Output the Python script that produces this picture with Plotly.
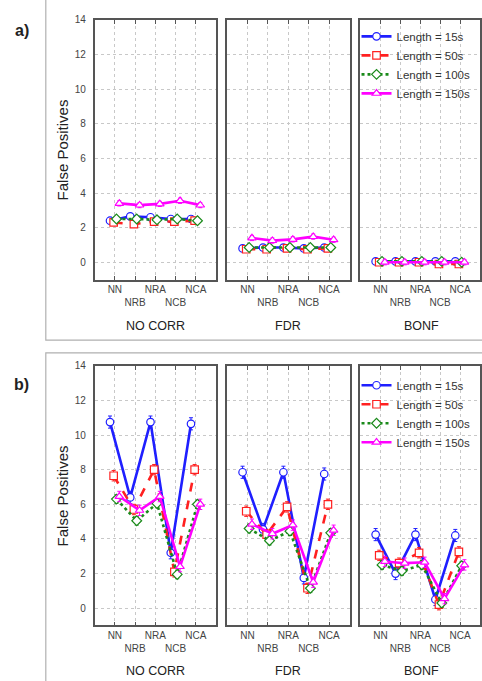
import plotly.graph_objects as go

categories = ["NN", "NRB", "NRA", "NCB", "NCA"]
tick_labels = ["NN", "<br>NRB", "NRA", "<br>NCB", "NCA"]
corrections = ["NO CORR", "FDR", "BONF"]
series_names = ["Length = 15s", "Length = 50s", "Length = 100s", "Length = 150s"]
y_ticks = [0, 2, 4, 6, 8, 10, 12, 14]

# panel a) values per correction: [15s, 50s, 100s, 150s]
a_nocorr = [[2.4, 2.65, 2.6, 2.5, 2.5],
            [2.3, 2.2, 2.35, 2.35, 2.4],
            [2.5, 2.5, 2.45, 2.5, 2.4],
            [3.4, 3.3, 3.37, 3.55, 3.3]]
a_fdr = [[0.8, 0.85, 0.85, 0.8, 0.85],
         [0.75, 0.75, 0.8, 0.75, 0.8],
         [0.85, 0.85, 0.85, 0.85, 0.85],
         [1.4, 1.25, 1.32, 1.48, 1.3]]
a_bonf = [[0.05, 0.05, 0.05, 0.05, 0.05],
          [0.0, 0.0, 0.0, -0.1, -0.1],
          [0.05, 0.05, 0.05, 0.05, 0.0],
          [0.0, 0.0, 0.0, 0.0, 0.0]]
a_err = [0.12, 0.12, 0.12, 0.15]

# panel b)
b_nocorr = [[10.75, 6.4, 10.75, 3.2, 10.65],
            [7.65, 5.7, 8.0, 2.1, 8.0],
            [6.3, 5.05, 6.05, 1.95, 6.0],
            [6.45, 5.65, 6.45, 2.4, 6.0]]
b_fdr = [[7.85, 4.55, 7.85, 1.75, 7.75],
         [5.6, 4.25, 5.85, 1.15, 6.0],
         [4.6, 3.9, 4.45, 1.15, 4.35],
         [4.85, 4.3, 4.8, 1.5, 4.5]]
b_bonf = [[4.25, 2.0, 4.25, 0.5, 4.2],
          [3.05, 2.6, 3.2, 0.2, 3.25],
          [2.5, 2.15, 2.5, 0.3, 2.45],
          [2.7, 2.6, 2.65, 0.55, 2.5]]
b_err = [0.35, 0.3, 0.25, 0.3]

colors = ["#1f1fff", "#ff2020", "#1a8a1a", "#ff00ff"]
symbols = ["circle", "square", "diamond", "triangle-up"]
dashes = ["solid", "dash", "dot", "solid"]
offsets = [-0.24, -0.06, 0.08, 0.22]

W, H = 482, 681
def px(x):
    return x / W
def py(y):
    return 1 - y / H

col_x = [(95, 217), (228, 351), (362, 482)]
row_y = [(14, 276), (363, 625)]

fig = go.Figure()

panels = [[a_nocorr, a_fdr, a_bonf], [b_nocorr, b_fdr, b_bonf]]
errs = [a_err, b_err]

for r in range(2):
    for c in range(3):
        idx = r * 3 + c + 1
        sfx = "" if idx == 1 else str(idx)
        data = panels[r][c]
        for s in range(4):
            fig.add_trace(go.Scatter(
                x=[i + offsets[s] for i in range(len(categories))],
                y=data[s],
                mode="lines+markers",
                name=series_names[s],
                line=dict(color=colors[s], width=2.6, dash=dashes[s]),
                marker=dict(symbol=symbols[s], size=7.5,
                            color="white", line=dict(color=colors[s], width=1.2)),
                error_y=dict(type="constant", value=errs[r][s], color=colors[s],
                             thickness=1, width=2),
                xaxis="x" + sfx, yaxis="y" + sfx,
                showlegend=(c == 2),
                legend="legend" if r == 0 else "legend2",
            ))
        x0, x1 = col_x[c]
        y0, y1 = row_y[r]
        fig.layout["xaxis" + sfx] = dict(
            domain=[px(x0), min(1, px(x1))], anchor="y" + sfx,
            range=[-1, 5], tickvals=list(range(5)), ticktext=tick_labels,
            tickangle=0,
            showgrid=True, gridcolor="#c8c8c8", griddash="dot", gridwidth=1,
            showline=True, linecolor="#555", linewidth=1.5, mirror="ticks",
            ticks="inside", ticklen=4, tickcolor="#555",
            ticklabelstandoff=0,
            tickfont=dict(family="Liberation Sans, Arial", size=10, color="#444"),
            zeroline=False, fixedrange=True,
        )
        fig.layout["yaxis" + sfx] = dict(
            domain=[py(y1), py(y0)], anchor="x" + sfx,
            range=[-1, 14], tickvals=y_ticks,
            showgrid=True, gridcolor="#c8c8c8", griddash="dot", gridwidth=1,
            showline=True, linecolor="#555", linewidth=1.5, mirror=True,
            showticklabels=(c == 0), ticks="",
            ticklabelstandoff=5,
            tickfont=dict(family="Liberation Sans, Arial", size=10, color="#444"),
            zeroline=False, fixedrange=True,
        )

annotations = []
for r in range(2):
    y0, y1 = row_y[r]
    for c in range(3):
        x0, x1 = col_x[c]
        xc = (x0 + (x0 + 122)) / 2
        annotations.append(dict(
            text=corrections[c], x=px(xc), y=py(y1 + [47, 46][r]), xref="paper", yref="paper",
            showarrow=False, xanchor="center", yanchor="middle",
            font=dict(family="Liberation Sans, Arial", size=12.5, color="#222")))
    annotations.append(dict(
        text="False Positives", x=px(63), y=py((y0 + y1) / 2), xref="paper", yref="paper",
        textangle=-90, showarrow=False, xanchor="center", yanchor="middle",
        font=dict(family="Liberation Sans, Arial", size=15, color="#222")))
    annotations.append(dict(
        text="<b>" + ["a)", "b)"][r] + "</b>", x=px(22), y=py([25, 382][r]),
        xref="paper", yref="paper", showarrow=False, xanchor="center", yanchor="middle",
        font=dict(family="Liberation Sans, Arial", size=16, color="#222")))

shapes = [
    dict(type="rect", xref="paper", yref="paper", x0=px(46), x1=1.05, y0=py(337), y1=1.05,
         line=dict(color="#b0b0b0", width=1.2), fillcolor="rgba(0,0,0,0)", layer="below"),
    dict(type="rect", xref="paper", yref="paper", x0=px(46), x1=1.05, y0=-0.05, y1=py(350),
         line=dict(color="#b0b0b0", width=1.2), fillcolor="rgba(0,0,0,0)", layer="below"),
]

legend_common = dict(
    bgcolor="rgba(0,0,0,0)", borderwidth=0, xanchor="left", yanchor="top",
    font=dict(family="Liberation Sans, Arial", size=11.5, color="#333"),
    itemwidth=30, tracegroupgap=0,
)

fig.update_layout(
    width=W, height=H,
    margin=dict(l=0, r=0, t=0, b=0),
    paper_bgcolor="white", plot_bgcolor="white",
    annotations=annotations, shapes=shapes,
    legend=dict(x=px(358), y=py(16), **legend_common),
    legend2=dict(x=px(358), y=py(368), **legend_common),
)

fig.write_html("out.html", config={"displayModeBar": False},
               post_script="document.body.style.margin='0';document.body.style.overflow='hidden';")
